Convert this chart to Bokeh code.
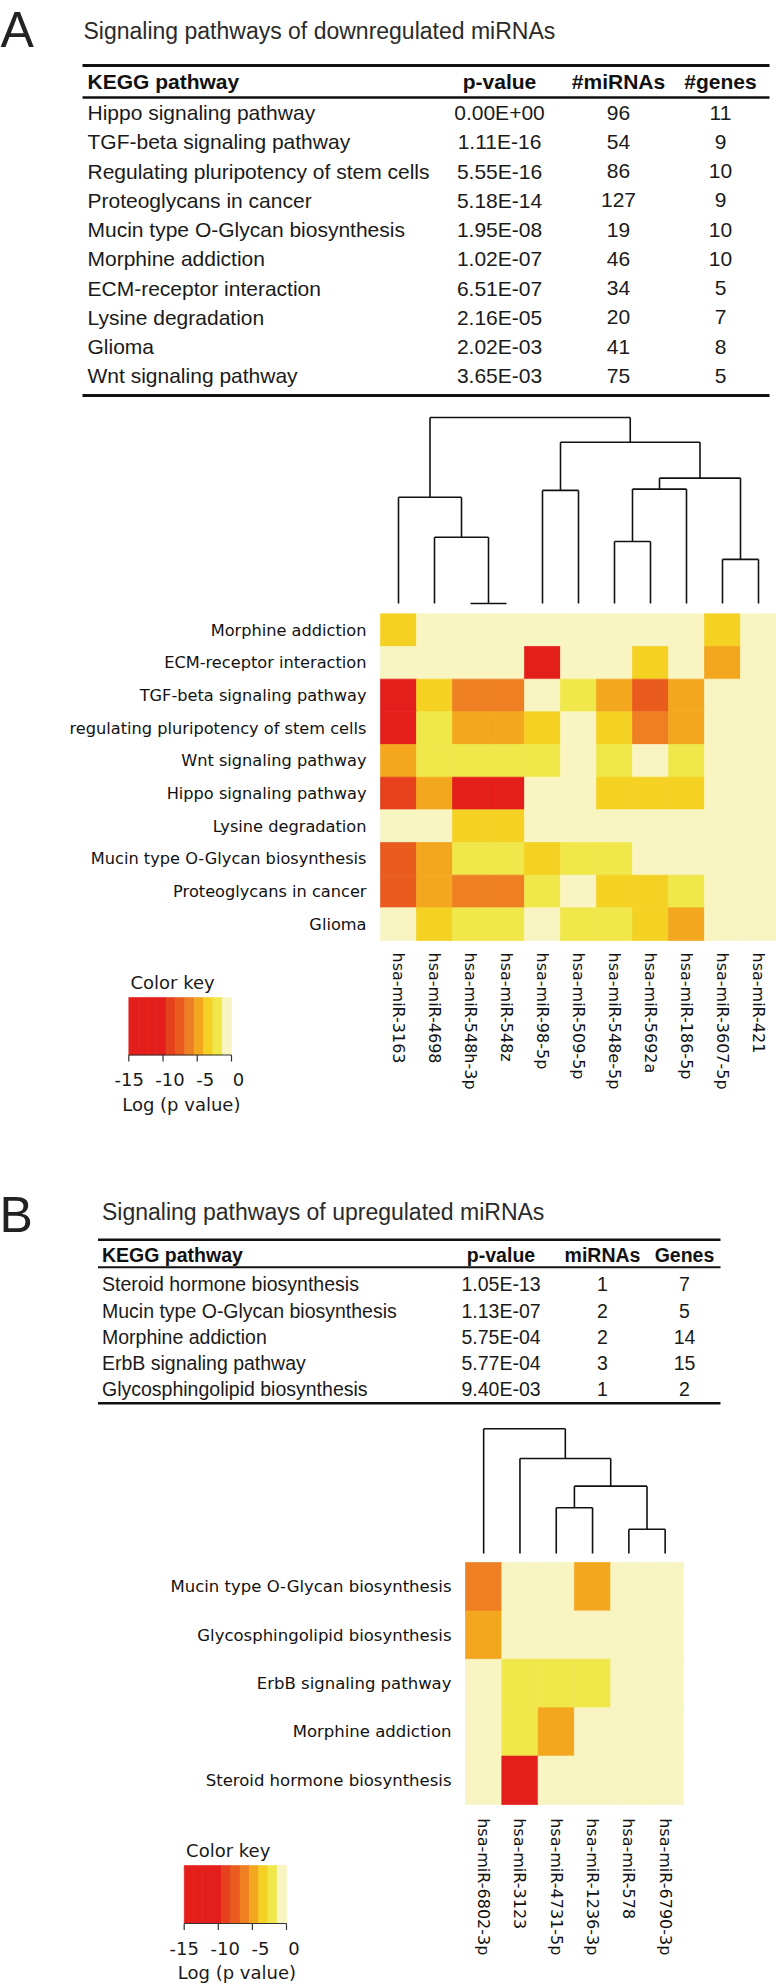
import math
from bokeh.plotting import figure
from bokeh.models import Range1d, LinearColorMapper, ColumnDataSource
from bokeh.transform import transform
from bokeh.core.properties import value
from bokeh.embed import file_html
from bokeh.resources import INLINE

# ---------------------------------------------------------------- data
table_a_header = ["KEGG pathway", "p-value", "#miRNAs", "#genes"]
table_a_pathway = ["Hippo signaling pathway", "TGF-beta signaling pathway",
                   "Regulating pluripotency of stem cells", "Proteoglycans in cancer",
                   "Mucin type O-Glycan biosynthesis", "Morphine addiction",
                   "ECM-receptor interaction", "Lysine degradation", "Glioma",
                   "Wnt signaling pathway"]
table_a_pvalue = ["0.00E+00", "1.11E-16", "5.55E-16", "5.18E-14", "1.95E-08",
                  "1.02E-07", "6.51E-07", "2.16E-05", "2.02E-03", "3.65E-03"]
table_a_mirnas = [96, 54, 86, 127, 19, 46, 34, 20, 41, 75]
table_a_genes = [11, 9, 10, 9, 10, 10, 5, 7, 8, 5]

table_b_header = ["KEGG pathway", "p-value", "miRNAs", "Genes"]
table_b_pathway = ["Steroid hormone biosynthesis", "Mucin type O-Glycan biosynthesis",
                   "Morphine addiction", "ErbB signaling pathway",
                   "Glycosphingolipid biosynthesis"]
table_b_pvalue = ["1.05E-13", "1.13E-07", "5.75E-04", "5.77E-04", "9.40E-03"]
table_b_mirnas = [1, 2, 2, 3, 1]
table_b_genes = [7, 5, 14, 15, 2]

heat_a_rows = ["Morphine addiction", "ECM-receptor interaction",
               "TGF-beta signaling pathway", "regulating pluripotency of stem cells",
               "Wnt signaling pathway", "Hippo signaling pathway", "Lysine degradation",
               "Mucin type O-Glycan biosynthesis", "Proteoglycans in cancer", "Glioma"]
heat_a_cols = ["hsa-miR-3163", "hsa-miR-4698", "hsa-miR-548h-3p", "hsa-miR-548z",
               "hsa-miR-98-5p", "hsa-miR-509-5p", "hsa-miR-548e-5p", "hsa-miR-5692a",
               "hsa-miR-186-5p", "hsa-miR-3607-5p", "hsa-miR-421"]
# log(p value) per pathway (row) x miRNA (column)
heat_a_logp = [
    [-3.4, 0, 0, 0, 0, 0, 0, 0, 0, -3.4, 0],
    [0, 0, 0, 0, -12.0, 0, 0, -3.4, 0, -4.8, 0],
    [-13.0, -3.4, -6.1, -6.1, 0, -2.0, -4.8, -7.5, -4.8, 0, 0],
    [-13.0, -2.0, -4.8, -4.8, -3.4, 0, -3.4, -6.1, -4.8, 0, 0],
    [-4.8, -2.0, -2.0, -2.0, -2.0, 0, -2.0, 0, -2.0, 0, 0],
    [-8.8, -4.8, -12.5, -12.5, 0, 0, -3.4, -3.4, -3.4, 0, 0],
    [0, 0, -3.4, -3.4, 0, 0, 0, 0, 0, 0, 0],
    [-7.5, -4.8, -2.0, -2.0, -3.4, -2.0, -2.0, 0, 0, 0, 0],
    [-7.5, -4.8, -6.1, -6.1, -2.0, 0, -3.4, -3.4, -2.0, 0, 0],
    [0, -3.4, -2.0, -2.0, 0, -2.0, -2.0, -3.4, -4.8, 0, 0],
]
# column dendrogram: (left node, right node, merge height); leaves 0..n-1
dendro_a_merges = [(2, 3, 0.0), (1, 11, 0.356), (0, 12, 0.571), (4, 5, 0.608),
                   (6, 7, 0.333), (15, 8, 0.615), (9, 10, 0.237), (16, 17, 0.674),
                   (14, 18, 0.867), (13, 19, 1.0)]

heat_b_rows = ["Mucin type O-Glycan biosynthesis", "Glycosphingolipid biosynthesis",
               "ErbB signaling pathway", "Morphine addiction", "Steroid hormone biosynthesis"]
heat_b_cols = ["hsa-miR-6802-3p", "hsa-miR-3123", "hsa-miR-4731-5p", "hsa-miR-1236-3p",
               "hsa-miR-578", "hsa-miR-6790-3p"]
heat_b_logp = [
    [-6.1, 0, 0, -4.8, 0, 0],
    [-4.8, 0, 0, 0, 0, 0],
    [0, -2.0, -2.0, -2.0, 0, 0],
    [0, -2.0, -4.8, 0, 0, 0],
    [0, -13.0, 0, 0, 0, 0],
]
dendro_b_merges = [(2, 3, 0.367), (4, 5, 0.195), (6, 7, 0.540), (1, 8, 0.762), (0, 9, 1.0)]

key_ticks = [-15, -10, -5, 0]
key_low, key_high = -15, 0
key_palette = ["#E31E1B", "#E31E1B", "#E31E1B", "#E31E1B", "#E6401D", "#EA5C1E",
               "#EE7F22", "#F3A71F", "#F4D123", "#F0E74B", "#F8F5C2"]

# ---------------------------------------------------------------- layout / style
W, H = 776, 1986
PX0, PY0 = 0, 0
PX1, PY1 = PX0 + W, PY0 + H
TXT = "#1a1a1a"
F_TAB = value("Liberation Sans")
F_HEAT = value("DejaVu Sans")
F_LET = value("Liberation Sans")

p = figure(width=W, height=H, x_range=Range1d(PX0, PX1), y_range=Range1d(PY1, PY0),
           x_axis_location=None, y_axis_location=None, toolbar_location=None,
           output_backend="svg", min_border=0, outline_line_color=None,
           background_fill_color="white", border_fill_color="white")
p.grid.visible = False


def lin_range(origin, unit, lo, hi):
    return Range1d(start=(lo - origin) / unit, end=(hi - origin) / unit)


def txt(x, y, t, font, size, align="left", color=TXT, style="normal", angle=0.0,
        xr="default", yr="default", dx=None):
    # y is the vertical middle of the text line
    data = dict(x=x, y=y, t=t, dx=dx if dx is not None else [0] * len(t))
    p.text(x="x", y="y", text="t", x_offset="dx", source=ColumnDataSource(data),
           text_font=font, text_font_size=size, text_align=align,
           text_baseline="middle", text_color=color, text_font_style=style,
           angle=angle, x_range_name=xr, y_range_name=yr)


def draw_table(L, header, columns):
    txt([L["letter_x"]], [L["letter_y"]], [L["letter"]], F_LET, "50px", color="#222222")
    txt([L["title_x"]], [L["title_y"]], [L["title"]], F_TAB, "23px", color="#2a2a2a")
    x0, x1 = L["line_x"]
    p.segment(x0=[x0] * 3, x1=[x1] * 3, y0=L["lines_y"], y1=L["lines_y"],
              line_color="#111111", line_width=L["lines_w"])
    n = len(columns[0])
    for j, head in enumerate(header):
        align = "left" if j == 0 else "center"
        txt([L["col_x"][j]], [L["head_y"]], [head], F_TAB, L["size"], align=align,
            style="bold", color="#111111")
        ys = [L["row_y0"] + L["row_step"] * i for i in range(n)]
        txt([L["col_x"][j]] * n, ys, [str(v) for v in columns[j]], F_TAB, L["size"],
            align=align)


def dendro_segments(merges, n):
    xs = {i: i + 0.5 for i in range(n)}
    hs = {i: 0.0 for i in range(n)}
    seg = dict(x0=[], y0=[], x1=[], y1=[])
    for k, (a, b, h) in enumerate(merges):
        for c in (a, b):
            seg["x0"].append(xs[c]); seg["y0"].append(hs[c])
            seg["x1"].append(xs[c]); seg["y1"].append(h)
        seg["x0"].append(xs[a]); seg["y0"].append(h)
        seg["x1"].append(xs[b]); seg["y1"].append(h)
        xs[n + k] = (xs[a] + xs[b]) / 2.0
        hs[n + k] = h
    return seg


mapper = LinearColorMapper(palette=key_palette, low=key_low, high=key_high)


def draw_heatmap(name, rows, cols, logp, merges, L):
    xr, yr, dr = name + "_x", name + "_y", name + "_d"
    cw = (L["x1"] - L["x0"]) / len(cols)
    p.extra_x_ranges[xr] = lin_range(L["x0"], cw, PX0, PX1)
    p.extra_y_ranges[yr] = lin_range(L["y0"], L["rh"], PY1, PY0)
    p.extra_y_ranges[dr] = lin_range(L["dbase"], -L["dscale"], PY1, PY0)
    cx, cy, cv = [], [], []
    for r, row in enumerate(logp):
        for c, v in enumerate(row):
            cx.append(c + 0.5); cy.append(r + 0.5); cv.append(v)
    src = ColumnDataSource(dict(x=cx, y=cy, v=cv))
    p.rect(x="x", y="y", width=1, height=1, source=src,
           fill_color=transform("v", mapper), line_color=transform("v", mapper),
           line_width=0.7, x_range_name=xr, y_range_name=yr)
    txt([L["label_x"]] * len(rows), [r + 0.5 for r in range(len(rows))], rows, F_HEAT,
        L["row_size"], align="right", color="#111111", yr=yr)
    txt([c + 0.5 for c in range(len(cols))], [L["col_top"]] * len(cols), cols, F_HEAT,
        "16px", align="left", color="#111111", angle=-math.pi / 2, xr=xr)
    seg = dendro_segments(merges, len(cols))
    p.segment(x0="x0", y0="y0", x1="x1", y1="y1", source=ColumnDataSource(seg),
              line_color="#111111", line_width=1.6, x_range_name=xr, y_range_name=dr)


def draw_key(name, L):
    xr = name + "_k"
    unit = (L["x1"] - L["x0"]) / (key_high - key_low)
    p.extra_x_ranges[xr] = lin_range(L["x1"] - key_high * unit, unit, PX0, PX1)
    n = len(key_palette)
    step = (key_high - key_low) / n
    left = [key_low + i * step for i in range(n)]
    right = [key_low + (i + 1) * step for i in range(n)]
    p.quad(left=left, right=right, top=[L["top"]] * n, bottom=[L["bottom"]] * n,
           fill_color=key_palette, line_color=key_palette, line_width=0.6, x_range_name=xr)
    p.segment(x0=[key_low], x1=[key_high], y0=[L["bottom"]], y1=[L["bottom"]],
              line_color="#333333", line_width=1.2, x_range_name=xr)
    p.segment(x0=key_ticks, x1=key_ticks, y0=[L["bottom"]] * len(key_ticks),
              y1=[L["bottom"] + 6.5] * len(key_ticks), line_color="#333333",
              line_width=1.2, x_range_name=xr)
    txt(key_ticks, [L["tick_y"]] * len(key_ticks), [str(t) for t in key_ticks],
        F_HEAT, "18px", align="center", xr=xr, dx=L["tick_dx"])
    txt([L["title_x"]], [L["title_y"]], ["Color key"], F_HEAT, "18px")
    txt([L["label_cx"]], [L["label_y"]], ["Log (p value)"], F_HEAT, "18px",
        align="center")


TABLE_A = dict(letter="A", letter_x=0, letter_y=29, title="Signaling pathways of downregulated miRNAs",
               title_x=83, title_y=30, line_x=(82, 769), lines_y=[65, 97, 395],
               lines_w=[3, 2.5, 3], head_y=80.7, row_y0=112, row_step=29.25,
               col_x=[87, 499, 618, 720], size="21px")
TABLE_B = dict(letter="B", letter_x=-1, letter_y=1214.5, title="Signaling pathways of upregulated miRNAs",
               title_x=101.5, title_y=1211, line_x=(97.5, 720), lines_y=[1239.3, 1266.7, 1402.7],
               lines_w=[2.5, 2, 2.5], head_y=1254.7, row_y0=1283.7, row_step=26.3,
               col_x=[101.5, 500.5, 602, 684], size="19.5px")
HEAT_A = dict(x0=380, x1=776, y0=613.3, rh=32.67, label_x=366, col_top=952,
              dbase=603, dscale=186, row_size="16.2px")
HEAT_B = dict(x0=465, x1=682.8, y0=1562, rh=48.4, label_x=451, col_top=1817.7,
              dbase=1553, dscale=124.7, row_size="16.5px")
KEY_A = dict(x0=128.3, x1=231, top=997, bottom=1054.5, tick_y=1079.2,
             tick_dx=[0.5, 7, 8, 7], title_x=130, title_y=981.8,
             label_cx=180.8, label_y=1103.5)
KB = 5  # small lift to keep the lower key inside the window
KEY_B = dict(x0=183.7, x1=286, top=1870 - KB, bottom=1928 - KB, tick_y=1952.5 - KB,
             tick_dx=[0, 7, 8, 7.5], title_x=185.6, title_y=1854.5 - KB,
             label_cx=236.4, label_y=1976.8 - KB)

draw_table(TABLE_A, table_a_header,
           [table_a_pathway, table_a_pvalue, table_a_mirnas, table_a_genes])
draw_table(TABLE_B, table_b_header,
           [table_b_pathway, table_b_pvalue, table_b_mirnas, table_b_genes])
draw_heatmap("ha", heat_a_rows, heat_a_cols, heat_a_logp, dendro_a_merges, HEAT_A)
draw_heatmap("hb", heat_b_rows, heat_b_cols, heat_b_logp, dendro_b_merges, HEAT_B)
draw_key("ka", KEY_A)
draw_key("kb", KEY_B)

open("out.html", "w").write(file_html(p, INLINE))
